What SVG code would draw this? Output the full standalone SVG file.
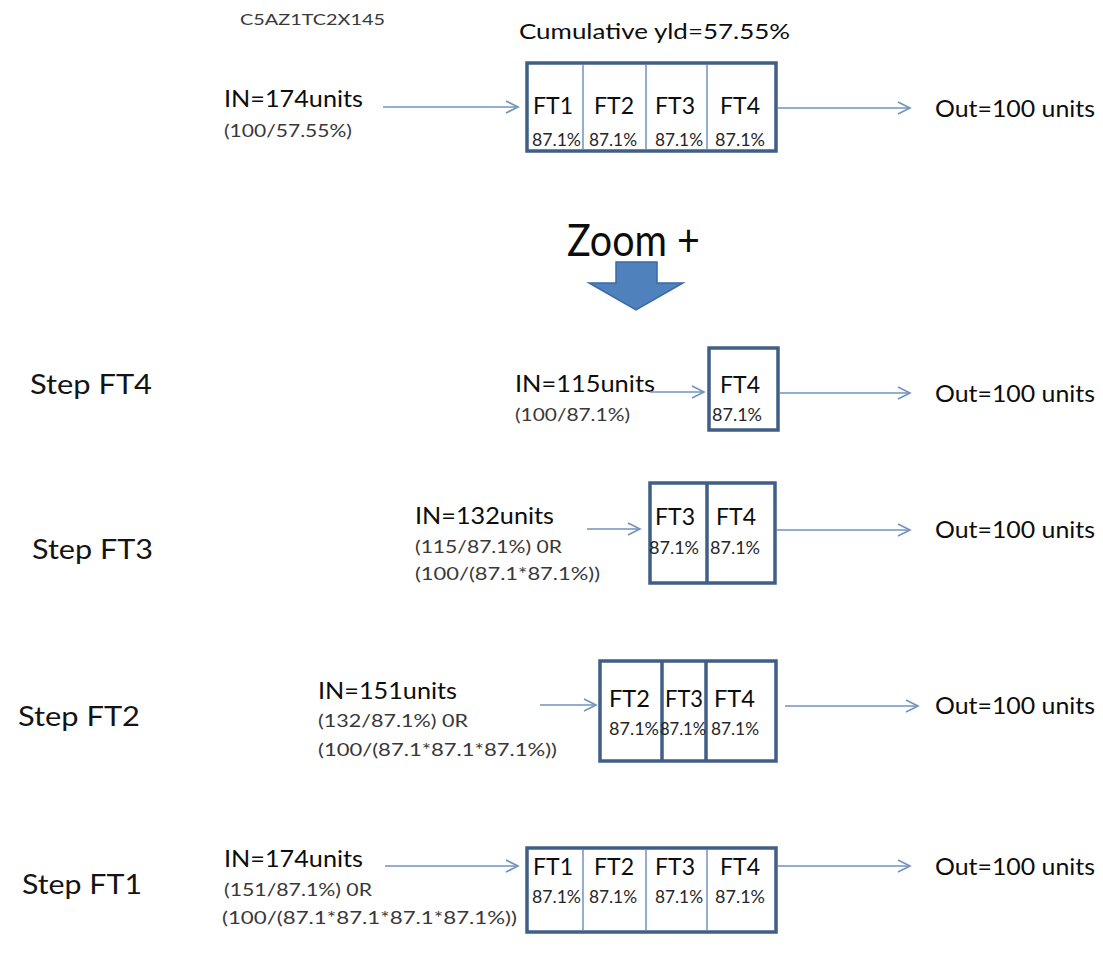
<svg xmlns="http://www.w3.org/2000/svg" width="1103" height="959" viewBox="0 0 1103 959">
<style>
  .bg{fill:#ffffff}
  text{font-family:Lato,"Open Sans","Liberation Sans",sans-serif}
  .lbl{font-size:24px;fill:#0d0d0d}
  .sub{font-size:18px;fill:#383838}
  .ft{font-size:24px;fill:#0d0d0d}
  .pct{font-size:17px;fill:#262626}
  .step{font-size:27px;fill:#141414}
  .code{font-size:16px;fill:#383838}
  .box{fill:#ffffff;stroke:#3f5f87;stroke-width:3.5}
  .thin{stroke:#5b82b3;stroke-width:1.3}
  .thick{stroke:#3f5f87;stroke-width:3.5}
  .conn{fill:none;stroke:#7193bd;stroke-width:1.6}
</style>
<defs>
  <marker id="chev" markerUnits="userSpaceOnUse" markerWidth="16" markerHeight="16" refX="13" refY="7" orient="auto">
    <path d="M1,1 L13,7 L1,13" fill="none" stroke="#7193bd" stroke-width="1.6"/>
  </marker>
</defs>
<rect class="bg" x="0" y="0" width="1103" height="959"/>

<g id="header">
  <text class="code" x="240" y="25" textLength="145" lengthAdjust="spacingAndGlyphs">C5AZ1TC2X145</text>
  <text class="lbl" x="519" y="39" style="font-size:21px" textLength="271" lengthAdjust="spacingAndGlyphs">Cumulative yld=57.55%</text>
</g>

<!-- Top row -->
<g id="top-in">
  <text class="lbl" x="224" y="107" textLength="139" lengthAdjust="spacingAndGlyphs">IN=174units</text>
  <text class="sub" x="224" y="137" textLength="128" lengthAdjust="spacingAndGlyphs">(100/57.55%)</text>
</g>
<g id="top-box">
  <rect class="box" x="527" y="63" width="249" height="88"/>
  <line class="thin" x1="583" y1="65" x2="583" y2="149"/>
  <line class="thin" x1="646" y1="65" x2="646" y2="149"/>
  <line class="thin" x1="707" y1="65" x2="707" y2="149"/>
  <text class="ft" x="533" y="114" textLength="40" lengthAdjust="spacingAndGlyphs">FT1</text>
  <text class="ft" x="594" y="114" textLength="40" lengthAdjust="spacingAndGlyphs">FT2</text>
  <text class="ft" x="655" y="114" textLength="40" lengthAdjust="spacingAndGlyphs">FT3</text>
  <text class="ft" x="720" y="114" textLength="40" lengthAdjust="spacingAndGlyphs">FT4</text>
  <text class="pct" x="532" y="146" textLength="49" lengthAdjust="spacingAndGlyphs">87.1%</text>
  <text class="pct" x="589" y="146" textLength="48" lengthAdjust="spacingAndGlyphs">87.1%</text>
  <text class="pct" x="655" y="146" textLength="48" lengthAdjust="spacingAndGlyphs">87.1%</text>
  <text class="pct" x="715" y="146" textLength="50" lengthAdjust="spacingAndGlyphs">87.1%</text>
</g>
<g id="top-out">
  <text class="lbl" x="935" y="117" textLength="160" lengthAdjust="spacingAndGlyphs">Out=100 units</text>
</g>

<g id="zoom">
  <text x="567" y="256" style="font-size:44px;fill:#0d0d0d" textLength="133" lengthAdjust="spacingAndGlyphs">Zoom +</text>
  <polygon points="616,262 657,262 657,283 683,283 636,310 589,283 616,283" fill="#4f81bd" stroke="#3a6aa6" stroke-width="1.5"/>
</g>

<!-- Step FT4 -->
<g id="step-ft4">
  <text class="step" x="30" y="394" textLength="122" lengthAdjust="spacingAndGlyphs">Step FT4</text>
  <text class="lbl" x="515" y="392" textLength="140" lengthAdjust="spacingAndGlyphs">IN=115units</text>
  <text class="sub" x="515" y="421" textLength="115" lengthAdjust="spacingAndGlyphs">(100/87.1%)</text>
  <rect class="box" x="709" y="348" width="69" height="82"/>
  <text class="ft" x="720" y="393" textLength="40" lengthAdjust="spacingAndGlyphs">FT4</text>
  <text class="pct" x="712" y="421" textLength="50" lengthAdjust="spacingAndGlyphs">87.1%</text>
  <text class="lbl" x="935" y="402" textLength="160" lengthAdjust="spacingAndGlyphs">Out=100 units</text>
</g>

<!-- Step FT3 -->
<g id="step-ft3">
  <text class="step" x="32" y="559" textLength="121" lengthAdjust="spacingAndGlyphs">Step FT3</text>
  <text class="lbl" x="415" y="524" textLength="139" lengthAdjust="spacingAndGlyphs">IN=132units</text>
  <text class="sub" x="415" y="553" textLength="147" lengthAdjust="spacingAndGlyphs">(115/87.1%) 0R</text>
  <text class="sub" x="415" y="580" textLength="185" lengthAdjust="spacingAndGlyphs">(100/(87.1*87.1%))</text>
  <rect class="box" x="650" y="483" width="125" height="100"/>
  <line class="thick" x1="707" y1="484" x2="707" y2="582"/>
  <text class="ft" x="655" y="525" textLength="40" lengthAdjust="spacingAndGlyphs">FT3</text>
  <text class="ft" x="716" y="525" textLength="40" lengthAdjust="spacingAndGlyphs">FT4</text>
  <text class="pct" x="649" y="554" textLength="50" lengthAdjust="spacingAndGlyphs">87.1%</text>
  <text class="pct" x="710" y="554" textLength="50" lengthAdjust="spacingAndGlyphs">87.1%</text>
  <text class="lbl" x="935" y="538" textLength="160" lengthAdjust="spacingAndGlyphs">Out=100 units</text>
</g>

<!-- Step FT2 -->
<g id="step-ft2">
  <text class="step" x="18" y="726" textLength="122" lengthAdjust="spacingAndGlyphs">Step FT2</text>
  <text class="lbl" x="318" y="699" textLength="139" lengthAdjust="spacingAndGlyphs">IN=151units</text>
  <text class="sub" x="318" y="727" textLength="150" lengthAdjust="spacingAndGlyphs">(132/87.1%) 0R</text>
  <text class="sub" x="318" y="756" textLength="239" lengthAdjust="spacingAndGlyphs">(100/(87.1*87.1*87.1%))</text>
  <rect class="box" x="600" y="661" width="176" height="100"/>
  <line class="thick" x1="662" y1="662" x2="662" y2="760"/>
  <line class="thick" x1="706" y1="662" x2="706" y2="760"/>
  <text class="ft" x="609" y="707" textLength="41" lengthAdjust="spacingAndGlyphs">FT2</text>
  <text class="ft" x="665" y="707" textLength="38" lengthAdjust="spacingAndGlyphs">FT3</text>
  <text class="ft" x="714" y="707" textLength="41" lengthAdjust="spacingAndGlyphs">FT4</text>
  <text class="pct" x="609" y="735" textLength="50" lengthAdjust="spacingAndGlyphs">87.1%</text>
  <text class="pct" x="660" y="735" textLength="46" lengthAdjust="spacingAndGlyphs">87.1%</text>
  <text class="pct" x="711" y="735" textLength="48" lengthAdjust="spacingAndGlyphs">87.1%</text>
  <text class="lbl" x="935" y="714" textLength="160" lengthAdjust="spacingAndGlyphs">Out=100 units</text>
</g>

<!-- Step FT1 -->
<g id="step-ft1">
  <text class="step" x="22" y="894" textLength="120" lengthAdjust="spacingAndGlyphs">Step FT1</text>
  <text class="lbl" x="224" y="867" textLength="139" lengthAdjust="spacingAndGlyphs">IN=174units</text>
  <text class="sub" x="224" y="896" textLength="148" lengthAdjust="spacingAndGlyphs">(151/87.1%) 0R</text>
  <text class="sub" x="222" y="924" textLength="295" lengthAdjust="spacingAndGlyphs">(100/(87.1*87.1*87.1*87.1%))</text>
  <rect class="box" x="527" y="848" width="249" height="84"/>
  <line class="thin" x1="583" y1="850" x2="583" y2="930"/>
  <line class="thin" x1="646" y1="850" x2="646" y2="930"/>
  <line class="thin" x1="707" y1="850" x2="707" y2="930"/>
  <text class="ft" x="533" y="875" textLength="40" lengthAdjust="spacingAndGlyphs">FT1</text>
  <text class="ft" x="594" y="875" textLength="40" lengthAdjust="spacingAndGlyphs">FT2</text>
  <text class="ft" x="655" y="875" textLength="40" lengthAdjust="spacingAndGlyphs">FT3</text>
  <text class="ft" x="720" y="875" textLength="40" lengthAdjust="spacingAndGlyphs">FT4</text>
  <text class="pct" x="532" y="903" textLength="49" lengthAdjust="spacingAndGlyphs">87.1%</text>
  <text class="pct" x="589" y="903" textLength="48" lengthAdjust="spacingAndGlyphs">87.1%</text>
  <text class="pct" x="655" y="903" textLength="48" lengthAdjust="spacingAndGlyphs">87.1%</text>
  <text class="pct" x="715" y="903" textLength="50" lengthAdjust="spacingAndGlyphs">87.1%</text>
  <text class="lbl" x="935" y="875" textLength="160" lengthAdjust="spacingAndGlyphs">Out=100 units</text>
</g>

<g id="connectors">
  <line class="conn" x1="383" y1="107" x2="518" y2="107" marker-end="url(#chev)"/>
  <line class="conn" x1="778" y1="108" x2="910" y2="108" marker-end="url(#chev)"/>
  <line class="conn" x1="650" y1="392" x2="704" y2="392" marker-end="url(#chev)"/>
  <line class="conn" x1="780" y1="393" x2="910" y2="393" marker-end="url(#chev)"/>
  <line class="conn" x1="587" y1="529" x2="640" y2="529" marker-end="url(#chev)"/>
  <line class="conn" x1="777" y1="530" x2="910" y2="530" marker-end="url(#chev)"/>
  <line class="conn" x1="540" y1="705" x2="596" y2="705" marker-end="url(#chev)"/>
  <line class="conn" x1="785" y1="706" x2="918" y2="706" marker-end="url(#chev)"/>
  <line class="conn" x1="385" y1="866" x2="518" y2="866" marker-end="url(#chev)"/>
  <line class="conn" x1="778" y1="866" x2="910" y2="866" marker-end="url(#chev)"/>
</g>
</svg>
